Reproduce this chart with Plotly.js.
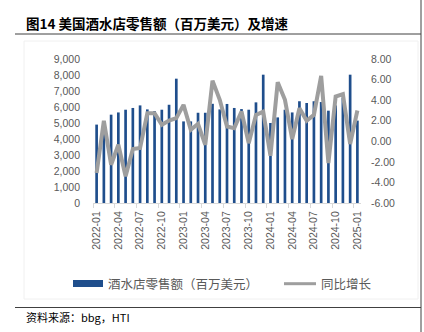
<!DOCTYPE html>
<html>
<head>
<meta charset="utf-8">
<script src="https://cdn.plot.ly/plotly-3.0.1.min.js"></script>
<style>
html,body{margin:0;padding:0;background:#fff;}
#chart{width:424px;height:332px;}
</style>
</head>
<body>
<div id="chart"></div>
<script>
const months = ["2022-01","2022-02","2022-03","2022-04","2022-05","2022-06","2022-07","2022-08","2022-09","2022-10","2022-11","2022-12",
"2023-01","2023-02","2023-03","2023-04","2023-05","2023-06","2023-07","2023-08","2023-09","2023-10","2023-11","2023-12",
"2024-01","2024-02","2024-03","2024-04","2024-05","2024-06","2024-07","2024-08","2024-09","2024-10","2024-11","2024-12",
"2025-01"];
const sales = [4900,5080,5520,5660,5830,5940,6100,5850,5750,5830,6140,7770,
5100,5100,5640,5640,6200,5850,6190,5940,5870,5830,6290,8020,
5000,5350,5830,5660,6360,6250,6360,6310,5770,6100,6580,8020,
5150];
const growth = [-3.08,1.99,-2.28,-0.34,-3.41,-0.76,-0.66,2.73,2.73,1.60,2.02,2.25,
3.54,1.12,1.70,-0.34,5.90,4.03,1.44,1.28,2.89,-0.18,2.57,2.89,
-1.41,5.75,4.03,0.21,3.22,1.99,2.57,6.35,-2.11,4.35,4.58,-0.27,
2.99];
const leftTicks = [0,1000,2000,3000,4000,5000,6000,7000,8000,9000];
const rightTicks = [-6,-4,-2,0,2,4,6,8];
const seriesNames = ["酒水店零售额（百万美元）","同比增长"];
const titleText = "图14 美国酒水店零售额（百万美元）及增速";
const sourceText = "资料来源：bbg，HTI";

const W = 424, H = 332, ML = 93, MR = 63, MT = 59, MB = 129;
const PW = W - ML - MR, PH = H - MT - MB;
const px = v => (v - ML) / PW;
const py = v => (H - MB - v) / PH;

const barColor = "#1F4E8C";
const lineColor = "#9E9E9E";
const tickFont = {family: "Liberation Sans, Arial, sans-serif", size: 10.5, color: "#595959"};
const cjk = "Noto Sans CJK SC, sans-serif";

const traces = [
  {type: "bar", x: months, y: sales, name: seriesNames[0], marker: {color: barColor}, yaxis: "y", showlegend: false},
  {type: "scatter", mode: "lines", x: months, y: growth, name: seriesNames[1], line: {color: lineColor, width: 4}, yaxis: "y2", showlegend: false}
];

const layout = {
  width: W, height: H,
  margin: {l: ML, r: MR, t: MT, b: MB},
  paper_bgcolor: "#fff", plot_bgcolor: "#fff",
  bargap: 0.63,
  showlegend: false,
  xaxis: {
    type: "category", range: [-0.5, 36.5], tickmode: "linear", tick0: 0, dtick: 3,
    tickson: "boundaries", ticks: "outside", ticklen: 4, tickcolor: "#d9d9d9",
    showline: true, linecolor: "#d9d9d9", linewidth: 1, showgrid: false,
    tickangle: -90, tickfont: tickFont, ticklabelstandoff: 3, fixedrange: true
  },
  yaxis: {
    range: [0, 9000], tickvals: leftTicks, ticktext: leftTicks.map(v => v.toLocaleString("en-US")),
    showgrid: false, zeroline: false, showline: false, ticks: "", tickfont: tickFont, ticklabelstandoff: 12
  },
  yaxis2: {
    overlaying: "y", side: "right", range: [-6, 8], tickvals: rightTicks, ticktext: rightTicks.map(v => v.toFixed(2)),
    showgrid: false, zeroline: false, showline: false, ticks: "", tickfont: tickFont, ticklabelstandoff: 9
  },
  shapes: [
    {type: "line", xref: "paper", yref: "paper", x0: px(15), x1: px(421), y0: py(34), y1: py(34), line: {color: "#404040", width: 1}},
    {type: "line", xref: "paper", yref: "paper", x0: px(15), x1: px(421), y0: py(307.5), y1: py(307.5), line: {color: "#404040", width: 1}},
    {type: "line", xref: "paper", yref: "paper", x0: px(421), x1: px(421), y0: py(0), y1: py(332), line: {color: "#404040", width: 1}},
    {type: "rect", xref: "paper", yref: "paper", x0: px(24), x1: px(418), y0: py(41), y1: py(299), line: {color: "#f0f0f0", width: 1}},
    {type: "rect", xref: "paper", yref: "paper", x0: px(73), x1: px(103), y0: py(280), y1: py(287), fillcolor: barColor, line: {width: 0}},
    {type: "line", xref: "paper", yref: "paper", x0: px(284), x1: px(316), y0: py(283.7), y1: py(283.7), line: {color: lineColor, width: 3}}
  ],
  annotations: [
    {xref: "paper", yref: "paper", x: px(24), y: py(23), xanchor: "left", yanchor: "middle", showarrow: false,
     text: "<b>" + titleText + "</b>", font: {family: cjk, size: 13.5, color: "#000"}},
    {xref: "paper", yref: "paper", x: px(106), y: py(283.5), xanchor: "left", yanchor: "middle", showarrow: false,
     text: seriesNames[0], font: {family: cjk, size: 12.5, color: "#595959"}},
    {xref: "paper", yref: "paper", x: px(319), y: py(283.5), xanchor: "left", yanchor: "middle", showarrow: false,
     text: seriesNames[1], font: {family: cjk, size: 12.5, color: "#595959"}},
    {xref: "paper", yref: "paper", x: px(24), y: py(317), xanchor: "left", yanchor: "middle", showarrow: false,
     text: sourceText, font: {family: cjk, size: 11, color: "#000"}}
  ]
};

Plotly.newPlot("chart", traces, layout, {displayModeBar: false, staticPlot: true});
</script>
</body>
</html>
